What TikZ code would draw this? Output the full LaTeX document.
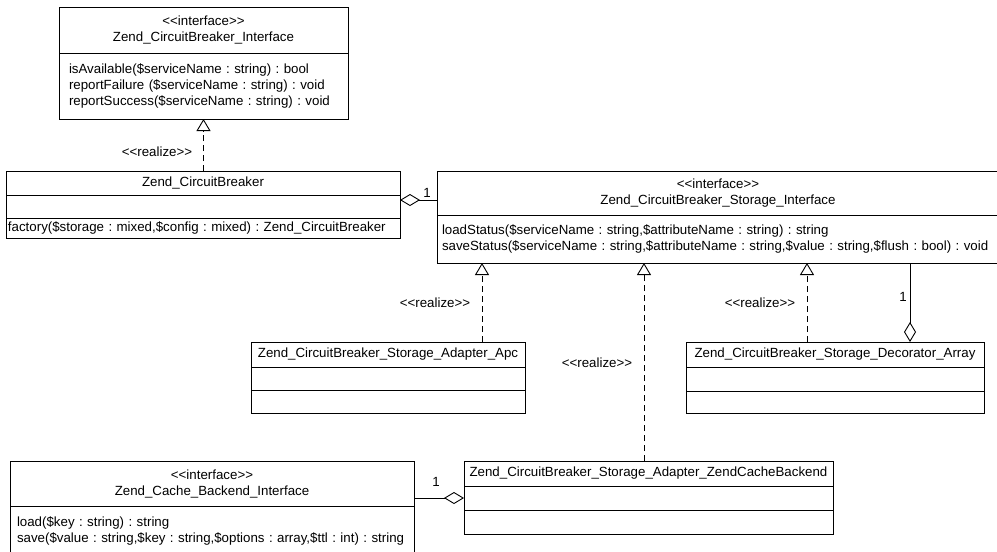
\documentclass[tikz,border=0pt]{standalone}
\usepackage{fontspec}
\usetikzlibrary{arrows.meta,positioning}
\newfontfamily\umlfont{Liberation Sans}
\newcommand{\umlsize}{\fontsize{13.3}{16}\selectfont}
\frenchspacing

\tikzset{
  umlbox/.style={draw, line width=0.9pt, outer sep=0pt, inner sep=0pt, anchor=north west, font=\umlfont\umlsize},
  classhead/.style={umlbox, align=center},
  classops/.style={umlbox, align=left},
  realize/.style={line width=0.9pt, dash pattern=on 6pt off 4pt, -{Triangle[open, length=12pt, width=14pt]}},
  aggr/.style={line width=0.9pt, -{Diamond[open, length=20pt, width=12pt]}},
  lbl/.style={font=\umlfont\umlsize, inner sep=0pt}
}

\begin{document}
\begin{tikzpicture}[x=1pt, y=-1pt]
    \useasboundingbox (0,0) rectangle (997,552);

    \node[classhead, minimum width=289pt, minimum height=46pt] (cbi) at (59,7) {<{}<interface>{}>\\Zend\_CircuitBreaker\_Interface};
    \node[classops, text width=269pt, inner xsep=10pt, minimum height=66pt, below=0pt of cbi] (cbi-m) {isAvailable(\$serviceName : string) : bool\\reportFailure (\$serviceName : string) : void\\reportSuccess(\$serviceName : string) : void};

    \node[classhead, minimum width=394pt, minimum height=24pt] (cb) at (6,171) {Zend\_CircuitBreaker};
    \node[umlbox, minimum width=394pt, minimum height=23pt, below=0pt of cb] (cb-a) {};
    \node[classops, text width=390pt, inner xsep=2pt, minimum height=20pt, below=0pt of cb-a] (cb-m) {factory(\$storage : mixed,\$config : mixed) : Zend\_CircuitBreaker};

    \node[classhead, minimum width=562pt, minimum height=44pt] (cbs) at (437,171) {<{}<interface>{}>\\Zend\_CircuitBreaker\_Storage\_Interface};
    \node[classops, text width=552pt, inner xsep=5pt, minimum height=48pt, below=0pt of cbs] (cbs-m) {loadStatus(\$serviceName : string,\$attributeName : string) : string\\saveStatus(\$serviceName : string,\$attributeName : string,\$value : string,\$flush : bool) : void};

    \node[classhead, minimum width=274pt, minimum height=25pt] (apc) at (251,342) {Zend\_CircuitBreaker\_Storage\_Adapter\_Apc};
    \node[umlbox, minimum width=274pt, minimum height=23pt, below=0pt of apc] (apc-a) {};
    \node[umlbox, minimum width=274pt, minimum height=23pt, below=0pt of apc-a] (apc-m) {};

    \node[classhead, minimum width=298pt, minimum height=25pt] (deco) at (686,342) {Zend\_CircuitBreaker\_Storage\_Decorator\_Array};
    \node[umlbox, minimum width=298pt, minimum height=24pt, below=0pt of deco] (deco-a) {};
    \node[umlbox, minimum width=298pt, minimum height=22pt, below=0pt of deco-a] (deco-m) {};

    \node[classhead, minimum width=369pt, minimum height=25pt] (zcb) at (464,461) {Zend\_CircuitBreaker\_Storage\_Adapter\_ZendCacheBackend};
    \node[umlbox, minimum width=369pt, minimum height=24pt, below=0pt of zcb] (zcb-a) {};
    \node[umlbox, minimum width=369pt, minimum height=24pt, below=0pt of zcb-a] (zcb-m) {};

    \node[classhead, minimum width=404pt, minimum height=45pt] (zci) at (10,461) {<{}<interface>{}>\\Zend\_Cache\_Backend\_Interface};
    \node[classops, text width=390pt, inner xsep=7pt, minimum height=50pt, below=0pt of zci] (zci-m) {load(\$key : string) : string\\save(\$value : string,\$key : string,\$options : array,\$ttl : int) : string};

    \coordinate (apcx) at (482,0);
    \coordinate (zcbx) at (644,0);
    \coordinate (decox) at (807,0);
    \coordinate (aggx) at (910,0);
    \coordinate (aggy) at (0,200);

    \draw[realize] (cb.north -| cbi-m.south) -- (cbi-m.south);
    \draw[realize] (apc.north -| apcx) -- (cbs-m.south -| apcx);
    \draw[realize] (zcb.north -| zcbx) -- (cbs-m.south -| zcbx);
    \draw[realize] (deco.north -| decox) -- (cbs-m.south -| decox);
    \draw[aggr] (cbs.west |- aggy) -- (cb-a.east |- aggy);
    \draw[aggr] (cbs-m.south -| aggx) -- (deco.north -| aggx);
    \draw[aggr] (zci.east |- zcb-a.west) -- (zcb-a.west);

    \node[lbl] (rl-cb) at (157,152) {<{}<realize>{}>};
    \node[lbl] (rl-apc) at (435,303) {<{}<realize>{}>};
    \node[lbl] (rl-zcb) at (597,363) {<{}<realize>{}>};
    \node[lbl] (rl-deco) at (760,303) {<{}<realize>{}>};
    \node[lbl] (one-cb) at (427,193) {1};
    \node[lbl] (one-deco) at (903,297) {1};
    \node[lbl] (one-zcb) at (436,482) {1};
\end{tikzpicture}
\end{document}
